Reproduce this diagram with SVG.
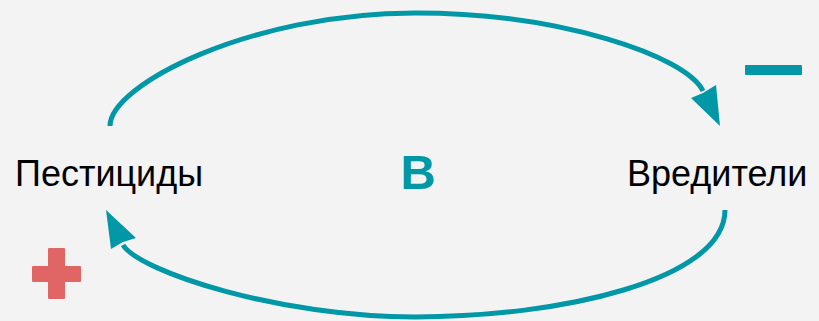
<svg xmlns="http://www.w3.org/2000/svg" width="819" height="321" viewBox="0 0 819 321">
<style>
.lbl{font-family:"Liberation Sans",Arial,sans-serif;font-size:36px;fill:#000}
.loop{fill:none;stroke:#0097A7;stroke-width:5}
.head{fill:#0097A7}
</style>
<rect width="819" height="321" fill="#F3F3F3"/>
<g id="connectors">
<path class="loop" d="M110,126 C110,85 250,13 415,13 C560,13 686,56 703,91"/>
<polygon class="head" points="720,126 691,98 703,93 716,85"/>
<path class="loop" d="M725,210 C725,280 560,317 415,317 C280,317 140,272 123,245"/>
<polygon class="head" points="106,210 111,249 123,242 136,238"/>
</g>
<g id="pesticides"><text class="lbl" x="15" y="186">Пестициды</text></g>
<g id="pests"><text class="lbl" x="627" y="186">Вредители</text></g>
<g id="loop-type"><text x="400.5" y="189" style="font-family:'Liberation Sans',Arial,sans-serif;font-weight:bold;font-size:49px;fill:#0097A7">B</text></g>
<g id="minus"><rect x="745" y="65" width="57" height="10" rx="1" fill="#0097A7"/></g>
<g id="plus" fill="#E06666">
<rect x="48" y="248" width="17" height="51" rx="1"/>
<rect x="32" y="266" width="49" height="16" rx="1"/>
</g>
</svg>
